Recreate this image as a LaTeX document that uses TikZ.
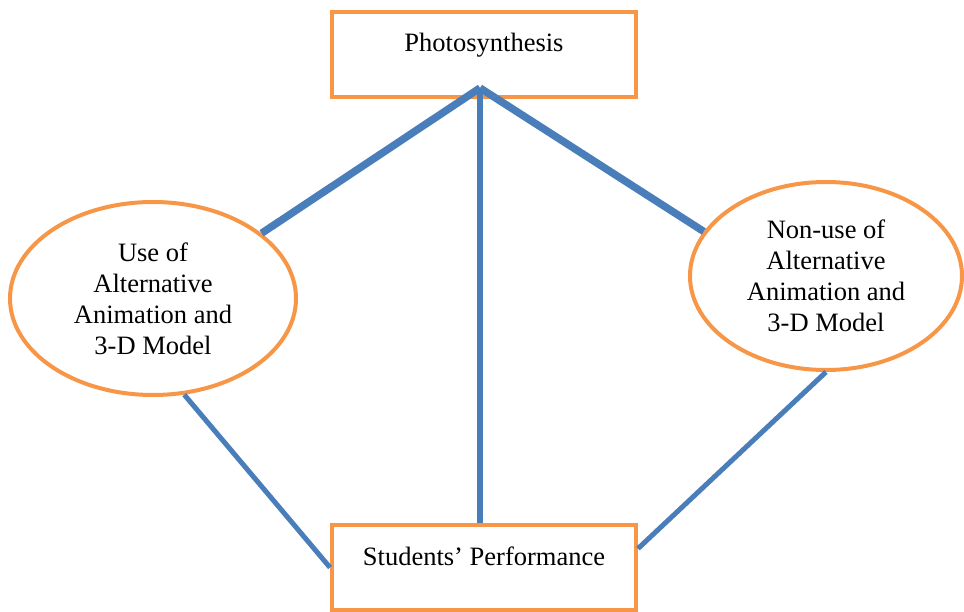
\documentclass[tikz,border=0pt]{standalone}
\usepackage{fontspec}
\setmainfont{Liberation Serif}
\usetikzlibrary{shapes.geometric}
\definecolor{boxorange}{HTML}{F79646}
\definecolor{linkblue}{HTML}{4A7EBB}
\begin{document}
\begin{tikzpicture}[x=1pt,y=-1pt,font=\fontsize{26.5}{31}\selectfont,
  box/.style={draw=boxorange,line width=4pt,inner sep=0pt,minimum width=304pt,
    text height=40pt,text depth=45pt},
  oval/.style={ellipse,draw=boxorange,line width=4pt,inner sep=0pt,align=center},
  link/.style={draw=linkblue,line width=5pt}]
  \useasboundingbox (0,0) rectangle (964,612);
  % Knoten
  \node[box] (photo) at (484,54.5) {Photosynthesis};
  \node[box] (perf) at (484,567.5) {Students’ Performance};
  \node[oval,minimum width=286pt,minimum height=193pt] (useAlt) at (153,298.5)
    {Use of\\Alternative\\Animation and\\3-D Model};
  \node[oval,minimum width=272pt,minimum height=188pt] (nonAlt) at (826,276)
    {Non-use of\\Alternative\\Animation and\\3-D Model};
  \coordinate (apex) at (480,88);

  % Linien
  \draw[link,line width=7.5pt] (apex) -- (useAlt.31);
  \draw[link,line width=7.5pt] (apex) -- (nonAlt.160);
  \draw[link,line width=5.5pt] (apex) -- (apex |- perf.north);
  \draw[link] (useAlt.-72) -- (perf.west);
  \draw[link] (nonAlt.south) -- (perf.7);
\end{tikzpicture}
\end{document}
